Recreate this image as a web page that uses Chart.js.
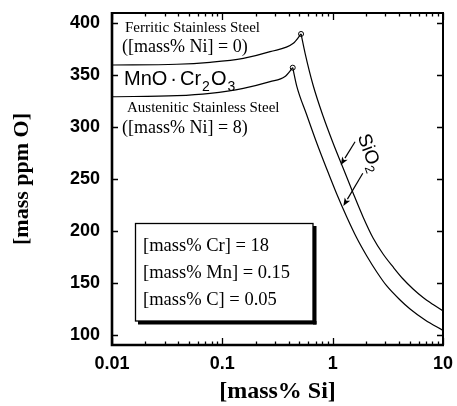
<!DOCTYPE html>
<html><head><meta charset="utf-8">
<script src="https://cdn.jsdelivr.net/npm/chart.js@4.4.1/dist/chart.umd.min.js"></script>
<style>html,body{margin:0;padding:0;background:#fff;}canvas{display:block;}</style>
</head><body>
<canvas id="c" width="457" height="406"></canvas>
<script>
// ---- data (mass% Si vs mass ppm O) ----
const ferriticRiseSi = [0.01, 0.0387, 0.0773, 0.155, 0.271, 0.44, 0.517];
const ferriticRiseO  = [359.9, 360.6, 362.5, 366.3, 372.7, 380.8, 389.8];
const ferriticFallSi = [0.517, 0.562, 0.664, 0.818, 1.008, 1.243, 1.531, 1.886, 2.324, 2.863, 3.528, 4.347, 5.356, 6.6, 8.133, 10];
const ferriticFallO  = [389.8, 371.4, 340.6, 310.7, 284.7, 260.6, 236.5, 213.4, 193.1, 177.7, 165.2, 153.6, 144.0, 135.8, 129.0, 122.8];
const austeniticRiseSi = [0.01, 0.0387, 0.0773, 0.155, 0.271, 0.37, 0.4347];
const austeniticRiseO  = [329.3, 330.3, 332.6, 337.4, 343.8, 348.8, 357.3];
const austeniticFallSi = [0.4347, 0.4725, 0.5824, 0.7175, 0.8841, 1.089, 1.342, 1.654, 2.038, 2.511, 3.094, 4.083, 5.03, 6.88, 10];
const austeniticFallO  = [357.3, 339.6, 311.7, 284.7, 259.6, 235.5, 213.4, 193.1, 175.8, 160.4, 146.9, 133.4, 124.7, 114.1, 104.0];
const peakSi = [0.517, 0.4347];
const peakO  = [389.8, 357.3];
const xTickValues = [0.01, 0.1, 1, 10];
const xTickLabels = ['0.01', '0.1', '1', '10'];
const yTickValues = [100, 150, 200, 250, 300, 350, 400];
// SiO2 arrows (tail -> tip) in data units
const arrowTailSi = [1.596, 1.875];
const arrowTailO  = [285.9, 255.5];
const arrowTipSi  = [1.184, 1.25];
const arrowTipO   = [263.5, 224.0];

const SERIF = "'Liberation Serif','Times New Roman',serif";
const SANS = "'Liberation Sans',Arial,sans-serif";

const pts = (xs, ys) => xs.map((x, i) => ({x: x, y: ys[i]}));

function drawRich(ctx, x, y, parts, size, family, align, weight) {
  ctx.save();
  const sub = Math.round(size * 0.68);
  const w = weight ? weight + ' ' : '';
  let total = 0;
  const widths = parts.map(p => {
    ctx.font = w + (p[1] ? sub : size) + 'px ' + family;
    const m = ctx.measureText(p[0]).width + (p[2] || 0);
    total += m; return m;
  });
  let cx = align === 'center' ? x - total / 2 : x;
  ctx.textAlign = 'left';
  parts.forEach((p, i) => {
    ctx.font = w + (p[1] ? sub : size) + 'px ' + family;
    ctx.fillText(p[0], cx, y + (p[1] ? size * 0.3 : 0));
    cx += widths[i];
  });
  ctx.restore();
}

const overlay = {
  id: 'overlay',
  afterDatasetsDraw(chart) {
    const ctx = chart.ctx, a = chart.chartArea;
    const xs = chart.scales.x, ys = chart.scales.y;
    ctx.save();
    ctx.strokeStyle = '#000'; ctx.fillStyle = '#000';
    // frame
    ctx.lineWidth = 2;
    ctx.beginPath(); ctx.moveTo(a.left, a.top); ctx.lineTo(a.right, a.top); ctx.lineTo(a.right, a.bottom); ctx.stroke();
    ctx.lineWidth = 2.6;
    ctx.beginPath(); ctx.moveTo(a.left, a.top - 1); ctx.lineTo(a.left, a.bottom); ctx.lineTo(a.right + 1, a.bottom); ctx.stroke();
    // inward ticks
    ctx.lineWidth = 1.3;
    yTickValues.forEach(v => {
      const py = Math.round(ys.getPixelForValue(v)) + 0.5;
      ctx.beginPath(); ctx.moveTo(a.left, py); ctx.lineTo(a.left + 6, py);
      ctx.moveTo(a.right, py); ctx.lineTo(a.right - 6, py); ctx.stroke();
    });
    for (let k = -2; k <= 1; k++) {
      for (let m = 1; m <= 9; m++) {
        const v = m * Math.pow(10, k);
        if (v > 10.0001) break;
        const px = Math.round(xs.getPixelForValue(v)) + 0.5;
        const L = m === 1 ? 7 : 3.5;
        ctx.beginPath(); ctx.moveTo(px, a.bottom); ctx.lineTo(px, a.bottom - L);
        ctx.moveTo(px, a.top); ctx.lineTo(px, a.top + L); ctx.stroke();
      }
    }
    // curve labels
    ctx.textBaseline = 'alphabetic';
    ctx.font = '15px ' + SERIF; ctx.textAlign = 'left';
    ctx.fillText('Ferritic Stainless Steel', 125, 32);
    ctx.fillText('Austenitic Stainless Steel', 127, 112);
    ctx.font = '18px ' + SERIF;
    ctx.fillText('([mass% Ni] = 0)', 122, 52);
    ctx.fillText('([mass% Ni] = 8)', 122, 133);
    drawRich(ctx, 124, 85, [['MnO', 0, 3], ['\u00B7', 0, 3], ['Cr', 0, 1], ['2', 1, 1], ['O', 0, 1], ['3', 1]], 20, SANS, 'left');
    // text box
    ctx.lineWidth = 1.3;
    ctx.strokeRect(135.5, 223.5, 177.5, 97.5);
    ctx.fillRect(313, 226, 3.5, 98.5);
    ctx.fillRect(138, 321, 178.5, 3.5);
    ctx.font = '18.5px ' + SERIF;
    ctx.fillText('[mass% Cr] = 18', 143, 251);
    ctx.fillText('[mass% Mn] = 0.15', 143, 278);
    ctx.fillText('[mass% C] = 0.05', 143, 305);
    // arrows
    ctx.lineWidth = 1.2;
    for (let i = 0; i < arrowTailSi.length; i++) {
      const x0 = xs.getPixelForValue(arrowTailSi[i]), y0 = ys.getPixelForValue(arrowTailO[i]);
      const x1 = xs.getPixelForValue(arrowTipSi[i]), y1 = ys.getPixelForValue(arrowTipO[i]);
      const ang = Math.atan2(y1 - y0, x1 - x0), hl = 8, hw = 3.2;
      const bx = x1 - hl * Math.cos(ang), by = y1 - hl * Math.sin(ang);
      ctx.beginPath(); ctx.moveTo(x0, y0); ctx.lineTo(bx, by); ctx.stroke();
      ctx.beginPath(); ctx.moveTo(x1, y1);
      ctx.lineTo(bx + hw * Math.sin(ang), by - hw * Math.cos(ang));
      ctx.lineTo(bx + 2 * Math.cos(ang), by + 2 * Math.sin(ang));
      ctx.lineTo(bx - hw * Math.sin(ang), by + hw * Math.cos(ang));
      ctx.closePath(); ctx.fill();
    }
    // SiO2 label
    ctx.save();
    ctx.translate(xs.getPixelForValue(2.138), ys.getPixelForValue(275.1));
    ctx.rotate(70 * Math.PI / 180);
    ctx.textBaseline = 'middle';
    drawRich(ctx, 0, 0, [['SiO', 0], ['2', 1]], 19, SANS, 'center');
    ctx.restore();
    ctx.restore();
  }
};

const lineDs = (xs, ys) => ({
  data: pts(xs, ys), showLine: true, borderColor: '#000', borderWidth: 1.2,
  pointRadius: 0, cubicInterpolationMode: 'monotone', fill: false
});

new Chart(document.getElementById('c'), {
  type: 'scatter',
  data: {
    datasets: [
      lineDs(ferriticRiseSi, ferriticRiseO),
      lineDs(ferriticFallSi, ferriticFallO),
      lineDs(austeniticRiseSi, austeniticRiseO),
      lineDs(austeniticFallSi, austeniticFallO),
      { data: pts(peakSi, peakO), showLine: false, pointRadius: 2.5, pointBackgroundColor: '#fff',
        pointBorderColor: '#000', pointBorderWidth: 1 }
    ]
  },
  options: {
    responsive: false, animation: false, devicePixelRatio: 1,
    layout: { padding: { left: 0, right: 14, top: 13, bottom: 0 } },
    plugins: { legend: { display: false }, tooltip: { enabled: false } },
    scales: {
      x: {
        type: 'logarithmic', min: 0.01, max: 10, position: 'bottom',
        grid: { display: false, drawTicks: false }, border: { display: false },
        afterBuildTicks: s => { s.ticks = xTickValues.map(v => ({ value: v })); },
        afterFit: s => { s.height = 61; s.paddingLeft = 0; s.paddingRight = 0; s.paddingTop = 0; s.paddingBottom = 0; },
        ticks: { autoSkip: false, maxRotation: 0, minRotation: 0, padding: 8, color: '#000',
          font: { family: SANS, size: 18, weight: 'bold' },
          callback: (v, i) => xTickLabels[i] },
        title: { display: true, text: '[mass% Si]', color: '#000',
          font: { family: SERIF, size: 24, weight: 'bold' }, padding: { top: 0, bottom: 0 } }
      },
      y: {
        type: 'linear', min: 90, max: 410,
        grid: { display: false, drawTicks: false }, border: { display: false },
        afterBuildTicks: s => { s.ticks = yTickValues.map(v => ({ value: v })); },
        afterFit: s => { s.width = 112; s.paddingTop = 0; s.paddingBottom = 0; s.paddingLeft = 0; s.paddingRight = 0; },
        ticks: { padding: 12, color: '#000', font: { family: SANS, size: 18, weight: 'bold' } },
        title: { display: true, text: '[mass ppm O]', color: '#000',
          font: { family: SERIF, size: 22, weight: 'bold' }, padding: { top: 9, bottom: 0 } }
      }
    }
  },
  plugins: [overlay]
});
</script>
</body></html>
